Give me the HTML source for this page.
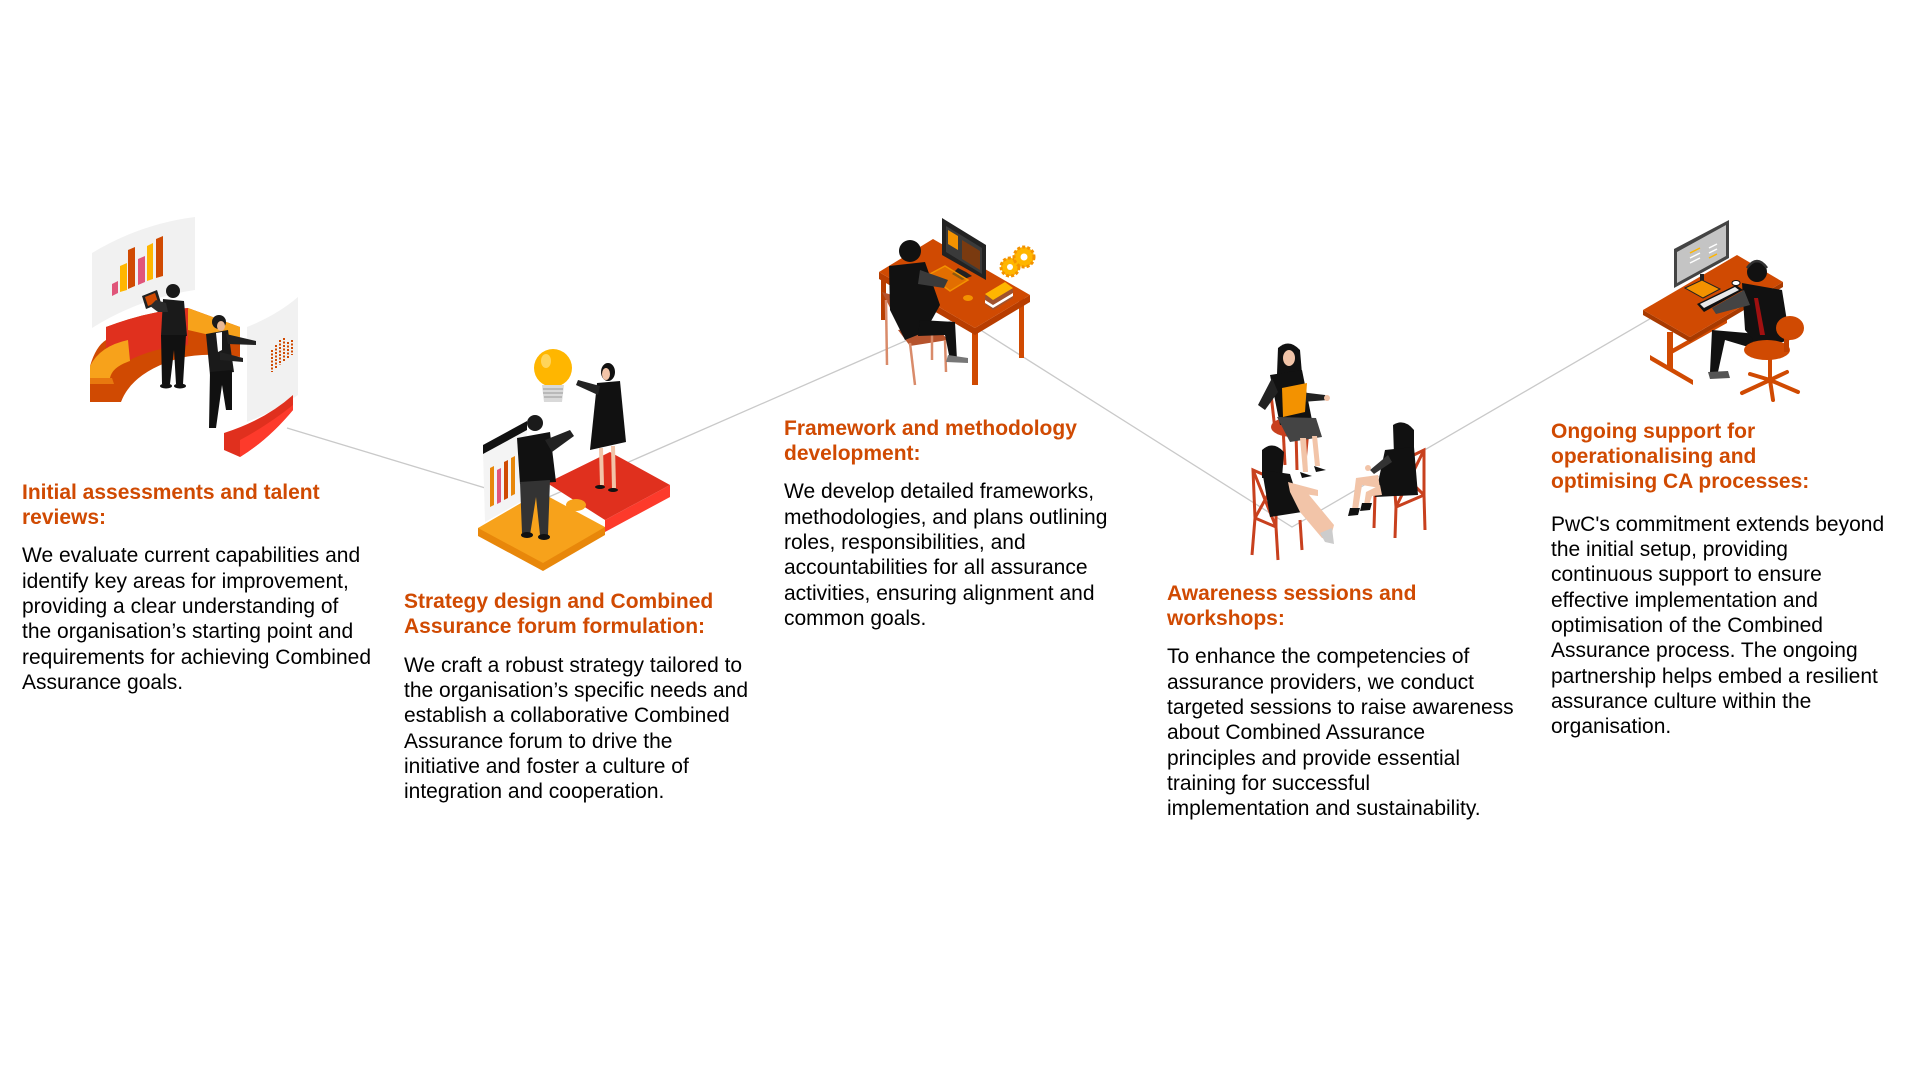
<!DOCTYPE html>
<html><head><meta charset="utf-8">
<style>
html,body{margin:0;padding:0;background:#fff;}
body{width:1920px;height:1080px;position:relative;overflow:hidden;font-family:"Liberation Sans",Arial,sans-serif;}
svg{position:absolute;left:0;top:0;}
.h{position:absolute;color:#d04a02;font-weight:bold;font-size:21px;line-height:25px;white-space:nowrap;}
.b{position:absolute;color:#000;font-size:21px;line-height:25.3px;white-space:nowrap;}
</style></head><body>
<svg width="1920" height="1080" viewBox="0 0 1920 1080">
<polyline points="287,428 535,503 960,317 1292,527 1660,313" fill="none" stroke="#c9c9c9" stroke-width="1.3"/>

<!-- Illustration 1 -->
<path d="M92,253 Q140,224 195,217 L195,290 Q140,298 92,328 Z" fill="#f1f1f1"/>
<polygon points="112,284 118,281 118,293 112,296" fill="#e0557a"/>
<polygon points="120,266 127,263 127,290 120,292" fill="#ffb600"/>
<polygon points="128,250 135,247 135,286 128,289" fill="#d04a02"/>
<polygon points="138,259 145,256 145,282 138,285" fill="#e0557a"/>
<polygon points="147,246 153,243 153,279 147,281" fill="#ffb600"/>
<polygon points="156,239 163,236 163,276 156,278" fill="#d04a02"/>
<path d="M90,366 Q96,346 106,340 L106,327 Q148,311 188,308 L240,327 L240,357 Q205,352 180,358 Q132,372 121,402 L90,402 Z" fill="#d04a02"/>
<path d="M106,327 Q148,311 188,308 L188,345 Q152,348 128,361 L106,352 Z" fill="#e0301e"/>
<path d="M90,366 Q100,346 128,340 L130,361 Q112,367 110,378 L90,378 Z" fill="#f7a21b"/>
<path d="M90,378 L112,378 L114,384 L90,384 Z" fill="#e8780f"/>
<path d="M188,308 L240,327 L240,342 L188,330 Z" fill="#f7a21b"/>
<polygon points="142,296 157,290 161,303 146,309" fill="#222"/>
<polygon points="145,297 155,293 158,302 148,306" fill="#d04a02"/>
<circle cx="173" cy="291" r="7" fill="#1a1a1a"/>
<path d="M163,299 L184,301 L187,336 L161,336 Z" fill="#1a1a1a"/>
<path d="M166,303 L156,300 L150,306 L158,312 L168,312 Z" fill="#2b2b2b"/>
<path d="M161,335 L186,335 L183,384 L176,384 L174,350 L170,384 L162,384 Z" fill="#111"/>
<ellipse cx="166" cy="386" rx="6" ry="2.5" fill="#111"/>
<ellipse cx="180" cy="386" rx="6" ry="2.5" fill="#111"/>
<path d="M247,327 Q277,315 298,297 L298,395 Q277,410 247,422 Z" fill="#f1f1f1"/>
<g stroke="#d04a02" stroke-width="2" stroke-dasharray="2 1.5">
<line x1="272" y1="350" x2="272" y2="372"/><line x1="276" y1="345" x2="276" y2="368"/>
<line x1="280" y1="340" x2="280" y2="365"/><line x1="284" y1="338" x2="284" y2="362"/>
<line x1="288" y1="342" x2="288" y2="358"/><line x1="292" y1="340" x2="292" y2="355"/>
</g>
<path d="M224,433 Q265,420 293,395 L293,410 Q268,440 240,457 L224,450 Z" fill="#e0301e"/>
<path d="M240,440 Q268,425 293,405 L293,410 Q268,440 240,457 Z" fill="#fd3a2b"/>
<circle cx="219" cy="322" r="7" fill="#1a1a1a"/>
<ellipse cx="221" cy="326" rx="4" ry="5" fill="#e8b896"/>
<path d="M206,334 L228,330 L234,372 L210,375 Z" fill="#1a1a1a"/>
<path d="M216,333 L222,332 L222,350 L218,352 Z" fill="#fff"/>
<path d="M226,334 L256,341 L256,345 L228,344 Z" fill="#222"/>
<path d="M220,352 L243,358 L243,362 L220,360 Z" fill="#222"/>
<path d="M210,372 L232,370 L232,410 L226,410 L222,385 L216,428 L209,428 Z" fill="#111"/>

<!-- Illustration 2 -->
<path d="M605,520 L670,485 L670,497 L605,532 Z" fill="#fd3a2b"/>
<path d="M547,483 L610,452 L670,485 L605,520 Z" fill="#e0301e"/>
<path d="M478,528 L478,536 L543,571 L605,535 L605,527 Z" fill="#e8870a"/>
<path d="M478,528 L540,492 L605,527 L543,563 Z" fill="#f7a21b"/>
<ellipse cx="576" cy="505" rx="10" ry="6" fill="#f7a21b"/>
<path d="M483,452 L527,428 L524,500 L485,522 Z" fill="#f4f4f4"/>
<path d="M483,445 L527,421 L527,430 L483,454 Z" fill="#111"/>
<polygon points="490,468 494,466 494,505 490,507" fill="#e8870a"/>
<polygon points="497,470 501,468 501,502 497,504" fill="#e0557a"/>
<polygon points="504,462 508,460 508,498 504,500" fill="#d04a02"/>
<polygon points="511,458 515,456 515,494 511,496" fill="#e8870a"/>
<circle cx="535" cy="423" r="8" fill="#1a1a1a"/>
<path d="M517,438 L550,432 L556,482 L520,484 Z" fill="#111"/>
<path d="M545,440 L570,430 L574,436 L552,452 Z" fill="#222"/>
<path d="M520,482 L550,480 L548,535 L540,535 L536,497 L530,535 L522,533 Z" fill="#333"/>
<ellipse cx="527" cy="535" rx="6" ry="3" fill="#111"/>
<ellipse cx="544" cy="537" rx="6" ry="3" fill="#111"/>
<ellipse cx="608" cy="372" rx="7" ry="9" fill="#111"/>
<ellipse cx="606" cy="374" rx="4" ry="6" fill="#f2c4a8"/>
<path d="M597,383 L620,381 L626,442 L590,450 Z" fill="#111"/>
<path d="M600,386 L578,380 L576,385 L598,395 Z" fill="#222"/>
<path d="M599,448 L603,448 L604,485 L600,485 Z" fill="#f2c4a8"/>
<path d="M611,446 L615,446 L616,488 L612,488 Z" fill="#f2c4a8"/>
<ellipse cx="600" cy="487" rx="5" ry="2" fill="#111"/>
<ellipse cx="613" cy="490" rx="5" ry="2" fill="#111"/>
<circle cx="553" cy="368" r="19" fill="#ffb600"/>
<ellipse cx="546" cy="361" rx="5" ry="7" fill="#ffd45a"/>
<path d="M542,385 L564,385 L562,402 L544,402 Z" fill="#d9d9d9"/>
<g stroke="#999" stroke-width="1"><line x1="543" y1="389" x2="563" y2="389"/><line x1="543" y1="393" x2="563" y2="393"/><line x1="544" y1="397" x2="562" y2="397"/></g>

<!-- Illustration 3 -->
<rect x="881" y="276" width="5" height="44" fill="#b83d00"/>
<rect x="1019" y="298" width="5" height="60" fill="#d04a02"/>
<rect x="972" y="330" width="6" height="55" fill="#d04a02"/>
<path d="M879,272 L879,279 L975,335 L1030,302 L1030,295 L975,328 Z" fill="#b83d00"/>
<path d="M879,272 L933,239 L1030,295 L975,328 Z" fill="#d04a02"/>
<path d="M942,218 L986,245 L986,280 L942,255 Z" fill="#222"/>
<path d="M946,226 L982,248 L982,274 L946,252 Z" fill="#3a3a3a"/>
<path d="M948,230 L958,236 L958,250 L948,244 Z" fill="#f39200"/>
<path d="M962,240 L980,251 L980,270 L962,259 Z" fill="#7a3a10"/>
<path d="M958,268 L966,272 L972,276 L962,280 L952,274 Z" fill="#222"/>
<path d="M928,275 L945,266 L968,280 L950,291 Z" fill="#f39200" fill-opacity="0.5" stroke="#f39200" stroke-width="1.5"/>
<ellipse cx="968" cy="298" rx="5" ry="3" fill="#f39200"/>
<path d="M985,296 L1005,284 L1013,290 L1013,298 L993,310 L985,304 Z" fill="#a0522d"/>
<path d="M985,294 L1005,282 L1013,288 L993,300 Z" fill="#ffb600"/>
<path d="M985,300 L993,305 L1013,293 L1013,296 L993,308 L985,303 Z" fill="#fff"/>
<circle cx="1010" cy="267" r="9" fill="#ffb600" stroke="#f39200" stroke-width="3" stroke-dasharray="3 2"/>
<circle cx="1010" cy="267" r="3" fill="#fff"/>
<circle cx="1024" cy="257" r="10" fill="#ffb600" stroke="#f39200" stroke-width="3" stroke-dasharray="3 2"/>
<circle cx="1024" cy="257" r="3.5" fill="#fff"/>
<path d="M882,292 L892,295 L917,338 L907,341 Z" fill="#b5532d"/>
<path d="M898,330 L935,325 L948,340 L910,346 Z" fill="#b5532d"/>
<g stroke="#d98b6a" stroke-width="2.5"><line x1="886" y1="300" x2="887" y2="365"/><line x1="910" y1="343" x2="915" y2="385"/><line x1="945" y1="340" x2="946" y2="372"/><line x1="932" y1="330" x2="932" y2="360"/></g>
<circle cx="910" cy="251" r="11" fill="#111"/>
<path d="M889,266 L925,262 L940,305 L925,332 L905,340 L890,310 Z" fill="#111"/>
<path d="M920,270 L948,280 L944,288 L918,284 Z" fill="#3a3a3a"/>
<path d="M920,320 L955,322 L957,360 L950,360 L945,335 L918,336 Z" fill="#111"/>
<path d="M948,355 L968,358 L968,363 L946,362 Z" fill="#777"/>

<!-- Illustration 4 -->
<g stroke="#c8401e" stroke-width="3" fill="none">
<line x1="1283" y1="427" x2="1285" y2="465"/><line x1="1308" y1="430" x2="1305" y2="462"/><line x1="1296" y1="432" x2="1297" y2="470"/>
<line x1="1270" y1="385" x2="1275" y2="430"/>
</g>
<ellipse cx="1293" cy="427" rx="22" ry="10" fill="#c8401e"/>
<path d="M1278,348 Q1289,338 1300,350 L1304,398 L1276,400 Z" fill="#111"/>
<ellipse cx="1289" cy="358" rx="6" ry="8" fill="#f2c4a8"/>
<path d="M1270,375 L1302,370 L1312,420 L1280,425 Z" fill="#111"/>
<path d="M1272,378 L1258,405 L1265,410 L1278,392 Z" fill="#222"/>
<path d="M1300,392 L1325,395 L1328,400 L1302,402 Z" fill="#222"/>
<circle cx="1327" cy="398" r="3" fill="#f2c4a8"/>
<path d="M1277,417 L1316,418 L1322,437 L1290,442 Z" fill="#444"/>
<path d="M1282,388 L1307,383 L1305,412 L1283,417 Z" fill="#f39200"/>
<path d="M1300,438 L1306,438 L1308,472 L1303,472 Z" fill="#f2c4a8"/>
<path d="M1312,436 L1317,436 L1320,466 L1315,466 Z" fill="#f2c4a8"/>
<path d="M1300,472 L1312,476 L1302,478 Z" fill="#111"/>
<path d="M1314,466 L1326,470 L1316,472 Z" fill="#111"/>
<g stroke="#c8401e" stroke-width="3" fill="none">
<path d="M1253,470 L1276,480 L1276,527 L1255,518 Z"/>
<line x1="1253" y1="470" x2="1276" y2="527"/><line x1="1276" y1="480" x2="1255" y2="518"/>
<line x1="1255" y1="518" x2="1252" y2="555"/><line x1="1276" y1="527" x2="1278" y2="560"/><line x1="1300" y1="520" x2="1302" y2="550"/>
</g>
<path d="M1262,450 Q1273,440 1284,452 L1282,478 L1262,478 Z" fill="#111"/>
<path d="M1262,470 L1290,474 L1302,512 L1270,517 Z" fill="#111"/>
<path d="M1290,492 L1305,490 L1334,525 L1330,540 L1322,538 L1300,512 Z" fill="#f2c4a8"/>
<path d="M1288,482 L1318,490 L1318,496 L1290,492 Z" fill="#f2c4a8"/>
<path d="M1320,533 L1332,528 L1334,544 L1325,542 Z" fill="#ccc"/>
<g stroke="#c8401e" stroke-width="3" fill="none">
<path d="M1393,465 L1424,450 L1424,495 L1396,507 Z"/>
<line x1="1393" y1="465" x2="1424" y2="495"/><line x1="1424" y1="450" x2="1396" y2="507"/>
<line x1="1396" y1="507" x2="1395" y2="538"/><line x1="1424" y1="495" x2="1425" y2="530"/><line x1="1375" y1="495" x2="1374" y2="528"/>
</g>
<path d="M1393,425 Q1404,418 1414,430 L1414,455 L1394,455 Z" fill="#111"/>
<path d="M1385,450 L1414,447 L1418,495 L1375,497 Z" fill="#111"/>
<path d="M1388,455 L1370,470 L1374,474 L1392,462 Z" fill="#333"/>
<circle cx="1368" cy="468" r="3" fill="#f2c4a8"/>
<path d="M1378,475 L1356,478 L1352,510 L1358,510 L1362,485 L1380,488 Z" fill="#f2c4a8"/>
<path d="M1380,485 L1366,492 L1364,505 L1369,505 L1372,496 L1382,495 Z" fill="#f2c4a8"/>
<path d="M1350,508 L1360,508 L1358,515 L1348,516 Z" fill="#111"/>
<path d="M1362,503 L1372,503 L1370,510 L1360,511 Z" fill="#111"/>

<!-- Illustration 5 -->
<path d="M1650,355 L1693,380 L1693,385 L1650,360 Z" fill="#d04a02"/>
<rect x="1667" y="332" width="6" height="38" fill="#d04a02"/>
<path d="M1670,350 L1727,318 L1727,323 L1670,355 Z" fill="#d04a02"/>
<path d="M1643,310 L1643,315 L1690,342 L1783,287 L1783,282 L1690,337 Z" fill="#a83a00"/>
<path d="M1643,310 L1737,255 L1783,282 L1690,337 Z" fill="#d04a02"/>
<path d="M1674,249 L1729,220 L1729,258 L1674,288 Z" fill="#444"/>
<path d="M1677,252 L1726,225 L1726,256 L1677,283 Z" fill="#c4c4c4"/>
<g stroke="#fff" stroke-width="1.5"><line x1="1690" y1="258" x2="1700" y2="253"/><line x1="1690" y1="263" x2="1700" y2="258"/><line x1="1709" y1="248" x2="1717" y2="244"/><line x1="1709" y1="253" x2="1717" y2="249"/></g>
<g stroke="#ffb600" stroke-width="1.5"><line x1="1690" y1="253" x2="1700" y2="248"/><line x1="1709" y1="258" x2="1717" y2="254"/></g>
<rect x="1700" y="274" width="4" height="12" fill="#222"/>
<path d="M1685,288 L1702,280 L1720,289 L1703,298 Z" fill="#f39200" stroke="#222" stroke-width="1"/>
<path d="M1697,304 L1736,285 L1743,290 L1704,312 Z" fill="#111"/>
<path d="M1700,304 L1735,287 L1739,290 L1704,308 Z" fill="#e8e8e8"/>
<ellipse cx="1736" cy="283" rx="4" ry="2.5" fill="#fff" stroke="#111"/>
<path d="M1747,333 L1770,340 L1765,352 L1725,340 L1718,372 L1710,372 L1712,330 Z" fill="#111"/>
<path d="M1708,372 L1728,371 L1730,378 L1710,379 Z" fill="#555"/>
<path d="M1742,283 L1782,290 L1790,340 L1760,348 L1745,330 Z" fill="#111"/>
<path d="M1744,290 L1712,308 L1716,314 L1750,305 Z" fill="#444"/>
<path d="M1754,298 L1758,298 L1765,335 L1760,335 Z" fill="#a01010"/>
<circle cx="1757" cy="272" r="10" fill="#111"/>
<path d="M1747,268 Q1757,254 1767,268" fill="none" stroke="#333" stroke-width="2.5"/>
<g stroke="#d04a02" stroke-width="4" stroke-linecap="round">
<line x1="1770" y1="352" x2="1770" y2="380"/>
<line x1="1770" y1="380" x2="1742" y2="393"/><line x1="1770" y1="380" x2="1798" y2="392"/>
<line x1="1770" y1="380" x2="1773" y2="400"/><line x1="1770" y1="380" x2="1750" y2="374"/><line x1="1770" y1="380" x2="1787" y2="372"/>
</g>
<ellipse cx="1767" cy="350" rx="23" ry="10" fill="#d04a02"/>
<rect x="1784" y="330" width="5" height="22" fill="#c04000"/>
<ellipse cx="1790" cy="328" rx="14" ry="12" fill="#d04a02"/>
</svg>

<div class="h" style="left:22px;top:479.5px">Initial assessments and talent<br>reviews:</div>
<div class="b" style="left:22px;top:543.4px">We evaluate current capabilities and<br>identify key areas for improvement,<br>providing a clear understanding of<br>the organisation’s starting point and<br>requirements for achieving Combined<br>Assurance goals.</div>

<div class="h" style="left:404px;top:589.3px">Strategy design and Combined<br>Assurance forum formulation:</div>
<div class="b" style="left:404px;top:652.8px">We craft a robust strategy tailored to<br>the organisation’s specific needs and<br>establish a collaborative Combined<br>Assurance forum to drive the<br>initiative and foster a culture of<br>integration and cooperation.</div>

<div class="h" style="left:784px;top:416.2px">Framework and methodology<br>development:</div>
<div class="b" style="left:784px;top:479.4px">We develop detailed frameworks,<br>methodologies, and plans outlining<br>roles, responsibilities, and<br>accountabilities for all assurance<br>activities, ensuring alignment and<br>common goals.</div>

<div class="h" style="left:1167px;top:580.5px">Awareness sessions and<br>workshops:</div>
<div class="b" style="left:1167px;top:644.4px">To enhance the competencies of<br>assurance providers, we conduct<br>targeted sessions to raise awareness<br>about Combined Assurance<br>principles and provide essential<br>training for successful<br>implementation and sustainability.</div>

<div class="h" style="left:1551px;top:418.5px">Ongoing support for<br>operationalising and<br>optimising CA processes:</div>
<div class="b" style="left:1551px;top:511.8px">PwC's commitment extends beyond<br>the initial setup, providing<br>continuous support to ensure<br>effective implementation and<br>optimisation of the Combined<br>Assurance process. The ongoing<br>partnership helps embed a resilient<br>assurance culture within the<br>organisation.</div>
</body></html>
